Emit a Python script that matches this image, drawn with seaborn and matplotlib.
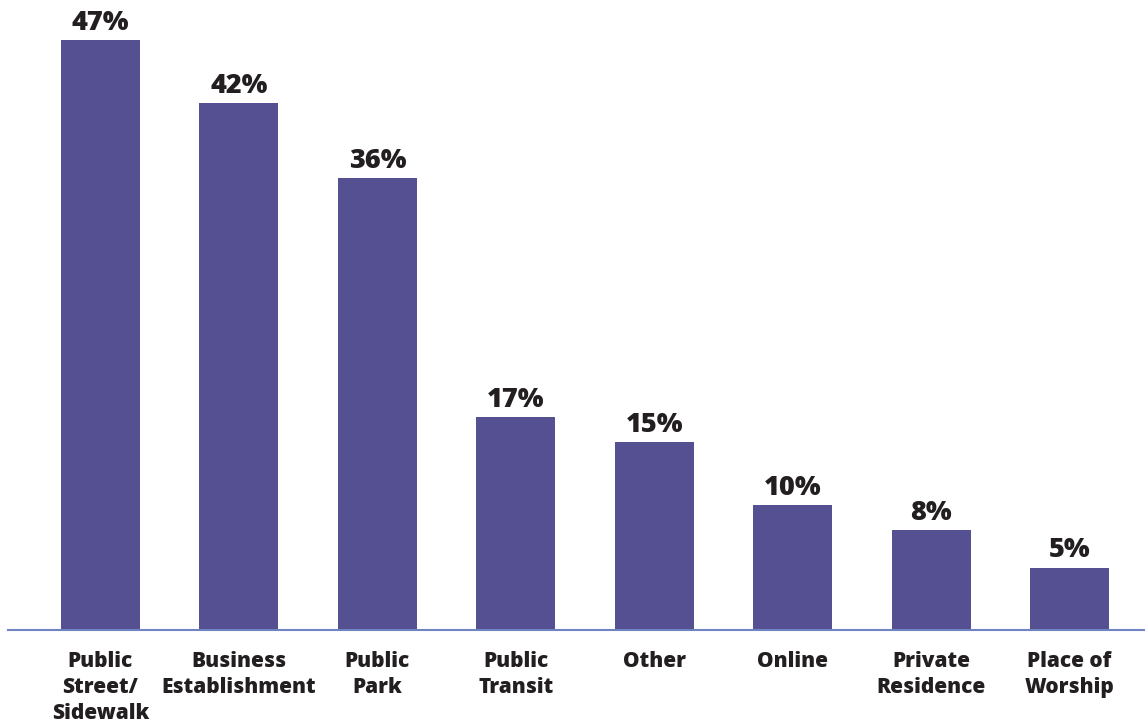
import matplotlib
matplotlib.use("Agg")
import matplotlib.pyplot as plt
import seaborn as sns
import pandas as pd

categories = [
    "Public\nStreet/\nSidewalk",
    "Business\nEstablishment",
    "Public\nPark",
    "Public\nTransit",
    "Other",
    "Online",
    "Private\nResidence",
    "Place of\nWorship",
]
percentages = [47, 42, 36, 17, 15, 10, 8, 5]

BAR_COLOR = "#545091"
TEXT_COLOR = "#231f20"
AXIS_COLOR = "#6f84c0"

sns.set_theme(style="white")
plt.rcParams["font.family"] = ["Open Sans", "DejaVu Sans"]

df = pd.DataFrame({"location": categories, "pct": percentages})

fig = plt.figure(figsize=(11.45, 7.28), dpi=100)
ax = fig.add_axes([0.007, 0.134, 0.993, 0.866])

sns.barplot(data=df, x="location", y="pct", color=BAR_COLOR, width=0.57,
            saturation=1, linewidth=0, edgecolor="none", ax=ax)

ax.set_xlim(-0.668, 7.545)
ax.set_ylim(0, 50.2)

for cont in ax.containers:
    ax.bar_label(cont, labels=[f"{v}%" for v in percentages], padding=3,
                 fontsize=19.5, fontweight="heavy", color=TEXT_COLOR)

ax.set_xlabel("")
ax.set_ylabel("")
ax.set_yticks([])
ax.tick_params(axis="x", length=0, pad=15)
for lbl in ax.get_xticklabels():
    lbl.set_fontsize(15)
    lbl.set_fontweight("heavy")
    lbl.set_color(TEXT_COLOR)
    lbl.set_linespacing(1.3)
    lbl.set_verticalalignment("top")

for side in ["top", "left", "right"]:
    ax.spines[side].set_visible(False)
ax.spines["bottom"].set_color(AXIS_COLOR)
ax.spines["bottom"].set_linewidth(1.5)

fig.savefig("out.png", dpi=100)
